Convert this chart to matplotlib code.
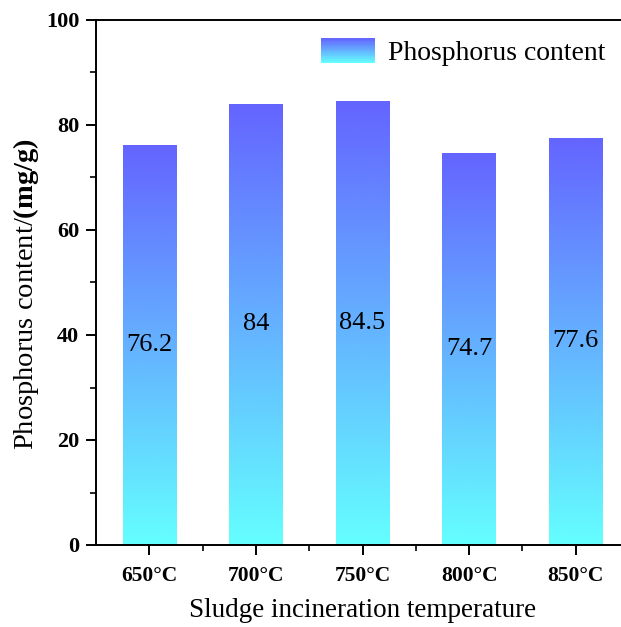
import numpy as np
import matplotlib
matplotlib.use("Agg")
import matplotlib.pyplot as plt
from matplotlib.colors import LinearSegmentedColormap
from matplotlib.legend_handler import HandlerBase
from matplotlib.patches import Rectangle
from matplotlib.ticker import MultipleLocator, FixedLocator

plt.rcParams['font.family'] = ['Liberation Serif', 'DejaVu Serif']
plt.rcParams['mathtext.fontset'] = 'custom'
plt.rcParams['mathtext.rm'] = 'Liberation Serif'
plt.rcParams['mathtext.bf'] = 'Liberation Serif:bold'

categories = ['650°C', '700°C', '750°C', '800°C', '850°C']
values = [76.2, 84, 84.5, 74.7, 77.6]
value_labels = ['76.2', '84', '84.5', '74.7', '77.6']
series_name = 'Phosphorus content'

top_color = '#6464FF'
bottom_color = '#64FFFF'
cmap = LinearSegmentedColormap.from_list('grad', [bottom_color, top_color])

fig = plt.figure(figsize=(6.21, 6.27), dpi=100)
ax = fig.add_axes([96/621, 1-545/627, 533/621, 525/627])

x = np.arange(len(categories))
bars = ax.bar(x, values, width=0.5, color='none', edgecolor='none', zorder=2)
grad = np.linspace(0, 1, 256).reshape(-1, 1)
for b in bars:
    x0, y0 = b.get_x(), b.get_y()
    w, h = b.get_width(), b.get_height()
    im = ax.imshow(grad, cmap=cmap, origin='lower', aspect='auto',
                   extent=[x0, x0 + w, y0, y0 + h], zorder=2)
    im.set_clip_path(b)

for xi, v, lab in zip(x, values, value_labels):
    ax.text(xi, v / 2, lab, ha='center', va='center', fontsize=19, zorder=3)

ax.set_xlim(-0.5, 4.5)
ax.set_ylim(0, 100)
ax.set_xticks(x)
ax.set_xticklabels(categories, fontsize=15.5, fontweight='bold')
ax.xaxis.set_minor_locator(FixedLocator(x[:-1] + 0.5))
ax.yaxis.set_major_locator(MultipleLocator(20))
ax.yaxis.set_minor_locator(MultipleLocator(10))
for lab in ax.get_yticklabels():
    lab.set_fontweight('bold')
    lab.set_fontsize(16)
ax.tick_params(which='major', direction='out', length=7, width=1.4, pad=8)
ax.tick_params(which='minor', direction='out', length=4, width=1.2)
ax.tick_params(axis='y', which='major', pad=5)
ax.tick_params(top=False, right=False, which='both')
for s in ax.spines.values():
    s.set_linewidth(1.4)

ax.set_xlabel('Sludge incineration temperature', fontsize=19.5, labelpad=9)
ax.set_ylabel(r'Phosphorus content/$\mathbf{(mg/g)}$', fontsize=20.5)
ax.yaxis.set_label_coords(-0.104, 0.478)


class GradientHandler(HandlerBase):
    def create_artists(self, legend, orig_handle, xdescent, ydescent,
                       width, height, fontsize, trans):
        n = 30
        arts = []
        for i in range(n):
            r = Rectangle((-xdescent, -ydescent + height * i / n), width, height / n + 0.3,
                          facecolor=cmap(i / (n - 1)), edgecolor='none', transform=trans)
            arts.append(r)
        return arts


proxy = Rectangle((0, 0), 1, 1)
ax.legend([proxy], [series_name], handler_map={Rectangle: GradientHandler()},
          loc='upper left', bbox_to_anchor=(0.375, 1.013), frameon=False,
          fontsize=20, handlelength=1.95, handleheight=1.0, handletextpad=0.47)

fig.savefig('out.png', dpi=100)
